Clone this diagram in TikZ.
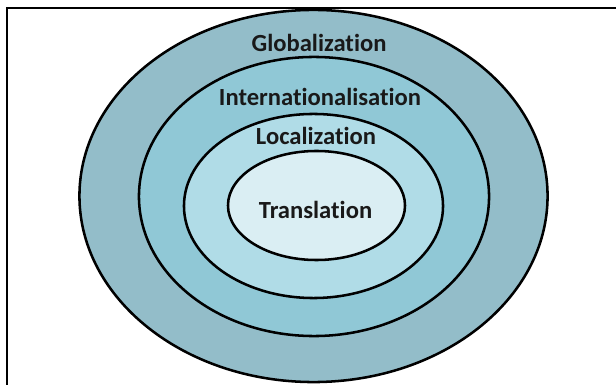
\documentclass[tikz,border=0pt]{standalone}
\usepackage{fontspec}
\setmainfont{Carlito}[Ligatures={NoCommon}]
\usepackage{tikz}
\usetikzlibrary{shapes.geometric}

\definecolor{globalcol}{HTML}{93BDC9}
\definecolor{intercol}{HTML}{90C8D6}
\definecolor{localcol}{HTML}{B0DCE7}
\definecolor{transcol}{HTML}{DAEEF3}

\tikzset{
    ring/.style={ellipse, draw=black, line width=1.8pt, inner sep=0pt},
    ringlabel/.style={font=\fontsize{17.5}{20}\selectfont\bfseries, text=black!90, inner sep=0pt}
}

\begin{document}
\begin{tikzpicture}[x=0.025cm, y=-0.025cm]
    \useasboundingbox (0,0) rectangle (616,385);
    % Frame
    \draw[line width=1.9pt] (7,390) -- (7,8) -- (620,8);

    % Rings
    \node[ring, fill=globalcol, minimum width=11.7cm, minimum height=9.3cm] (global) at (313.5,196) {};
    \node[ring, fill=intercol, minimum width=8.75cm, minimum height=6.975cm] (inter) at (314,196.5) {};
    \node[ring, fill=localcol, minimum width=6.475cm, minimum height=4.6cm] (local) at (313.5,206) {};
    \node[ring, fill=transcol, minimum width=4.425cm, minimum height=2.725cm] (trans) at (316.5,205.5) {};

    % Labels
    \node[ringlabel] (globaltext) at (319,43) {Globalization};
    \node[ringlabel] (intertext) at (320,97) {Internationalisation};
    \node[ringlabel] (localtext) at (316,136) {Localization};
    \node[ringlabel] (transtext) at (315.5,210) {Translation};
\end{tikzpicture}
\end{document}
